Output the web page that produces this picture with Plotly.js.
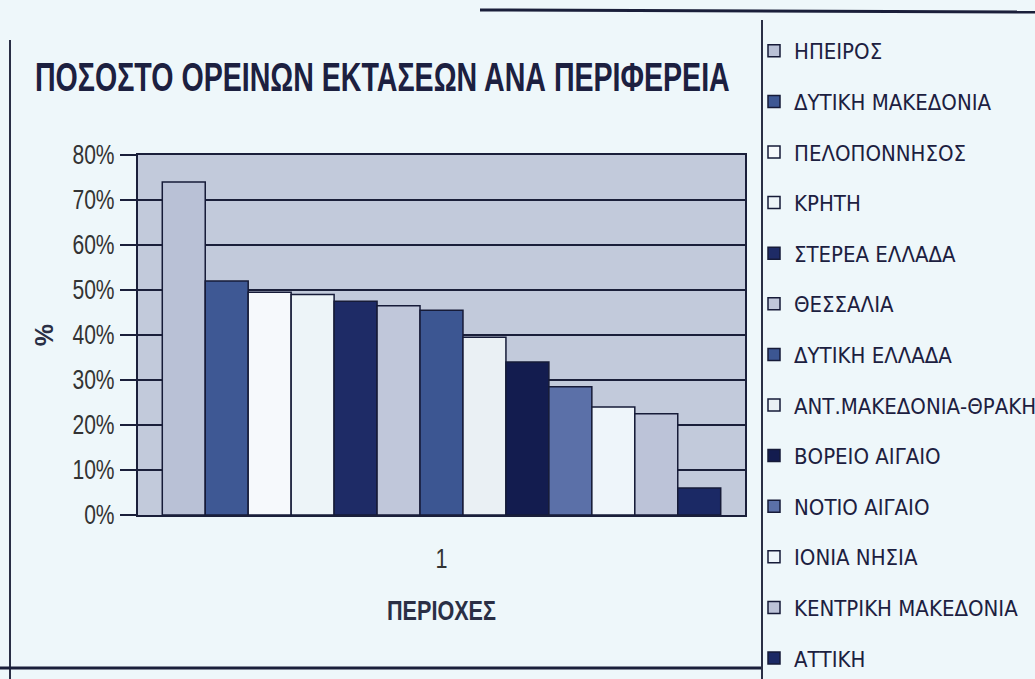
<!DOCTYPE html>
<html>
<head>
<meta charset="utf-8">
<script src="https://cdn.plot.ly/plotly-3.0.1.min.js"></script>
<style>
  html, body { margin: 0; padding: 0; background: #eef7fa; }
  #chart { width: 1035px; height: 679px; }
</style>
</head>
<body>
<div id="chart"></div>
<script>
// Data (percent of mountainous area per region)
const regions = [
  "ΗΠΕΙΡΟΣ",
  "ΔΥΤΙΚΗ ΜΑΚΕΔΟΝΙΑ",
  "ΠΕΛΟΠΟΝΝΗΣΟΣ",
  "ΚΡΗΤΗ",
  "ΣΤΕΡΕΑ ΕΛΛΑΔΑ",
  "ΘΕΣΣΑΛΙΑ",
  "ΔΥΤΙΚΗ ΕΛΛΑΔΑ",
  "ΑΝΤ.ΜΑΚΕΔΟΝΙΑ-ΘΡΑΚΗ",
  "ΒΟΡΕΙΟ ΑΙΓΑΙΟ",
  "ΝΟΤΙΟ ΑΙΓΑΙΟ",
  "ΙΟΝΙΑ ΝΗΣΙΑ",
  "ΚΕΝΤΡΙΚΗ ΜΑΚΕΔΟΝΙΑ",
  "ΑΤΤΙΚΗ"
];
const percents = [74, 52, 49.5, 49, 47.5, 46.5, 45.5, 39.5, 34, 28.5, 24, 22.5, 6];
const category = ["1"];
const yTicks = [0, 10, 20, 30, 40, 50, 60, 70, 80];
const yTickLabels = ["0%", "10%", "20%", "30%", "40%", "50%", "60%", "70%", "80%"];

const barColors = [
  "#b9c1d6", "#3e5894", "#f6f9fc", "#edf4f8", "#1e2b66", "#c0c7da",
  "#3c5692", "#eaf0f4", "#131c4f", "#5b70a8", "#eef5fa", "#bcc3d8", "#1b2965"
];

const FONT = "'Liberation Sans', Arial, sans-serif";
const COND = "'DejaVu Sans Condensed', 'Liberation Sans Narrow', 'Liberation Sans', sans-serif";

const traces = regions.map((name, i) => ({
  type: "bar",
  name: name,
  x: category,
  y: [percents[i]],
  legendgroup: "g" + i,
  marker: { color: barColors[i], line: { color: "#161b38", width: 1.5 } },
  hoverinfo: "name+y"
}));

// pixel helpers for decorative frame lines (paper coords relative to plot area)
const L = 138, R = 745, T = 155, B = 515;
const px = v => (v - L) / (R - L);
const py = v => (B - v) / (B - T);

const layout = {
  width: 1035,
  height: 679,
  margin: { l: L, r: 1035 - R, t: T, b: 679 - B, autoexpand: false },
  paper_bgcolor: "#eef7fa",
  plot_bgcolor: "#c2cadb",
  barmode: "group",
  bargap: 0.08,
  bargroupgap: 0,
  showlegend: true,
  font: { family: FONT, color: "#2a2f45" },
  title: {
    text: "ΠΟΣΟΣΤΟ ΟΡΕΙΝΩΝ ΕΚΤΑΣΕΩΝ ΑΝΑ ΠΕΡΙΦΕΡΕΙΑ",
    font: { family: FONT, size: 40, weight: "bold", color: "#1c2040" },
    x: 35 / 1035, xanchor: "left", xref: "container",
    y: 1 - 77 / 679, yanchor: "middle", yref: "container"
  },
  xaxis: {
    type: "category",
    showgrid: false,
    showline: true, linecolor: "#1a1f3a", linewidth: 2,
    ticks: "", ticklabelstandoff: 19,
    tickfont: { family: FONT, size: 27, color: "#333" },
    title: { text: "ΠΕΡΙΟΧΕΣ", font: { family: FONT, size: 27, weight: "bold", color: "#2a2f45" }, standoff: 28 },
    mirror: true
  },
  yaxis: {
    range: [0, 80],
    tickvals: yTicks,
    ticktext: yTickLabels,
    showgrid: true, gridcolor: "#1a1f3a", gridwidth: 2,
    showline: true, linecolor: "#1a1f3a", linewidth: 2, mirror: true,
    ticks: "outside", ticklen: 16, tickwidth: 2, tickcolor: "#1a1f3a",
    tickfont: { family: FONT, size: 27, color: "#333" },
    zeroline: false,
    title: { text: "%", font: { family: FONT, size: 25, weight: "bold", color: "#2a2f45" }, standoff: 0 }
  },
  legend: {
    x: px(754), xanchor: "left",
    y: py(30), yanchor: "top",
    bgcolor: "rgba(0,0,0,0)",
    font: { family: COND, size: 22, color: "#1c2040" },
    tracegroupgap: 19,
    itemwidth: 30,
    traceorder: "grouped",
    maxheight: 679
  },
  shapes: [
    { type: "line", xref: "paper", yref: "paper", x0: px(10), x1: px(10), y0: py(40), y1: py(679), line: { color: "#2a2f45", width: 2 } },
    { type: "line", xref: "paper", yref: "paper", x0: px(0), x1: px(762), y0: py(668), y1: py(668), line: { color: "#1a1f3a", width: 3 } },
    { type: "line", xref: "paper", yref: "paper", x0: px(762), x1: px(762), y0: py(20), y1: py(679), line: { color: "#2a2f45", width: 2 } },
    { type: "line", xref: "paper", yref: "paper", x0: px(480), x1: px(1035), y0: py(10), y1: py(12), line: { color: "#1a1f3a", width: 3 } }
  ]
};

// Narrow-font look: scale text horizontally around its anchor x (no Arial Narrow offline)
function narrow(root, selector, factor, targetWidth) {
  root.querySelectorAll(selector).forEach(el => {
    const len = el.getComputedTextLength();
    if (!len) return;
    const sx = targetWidth ? targetWidth / len : factor;
    const x0 = parseFloat(el.getAttribute("x")) || 0;
    const prev = el.getAttribute("transform") || "";
    el.setAttribute("transform", (prev + " translate(" + (x0 * (1 - sx)).toFixed(2) + ",0) scale(" + sx.toFixed(4) + ",1)").trim());
  });
}

Plotly.newPlot("chart", traces, layout, { displayModeBar: false, staticPlot: true }).then(gd => {
  narrow(gd, ".gtitle", 0, 695);
  narrow(gd, ".ytick text", 0.78);
  narrow(gd, ".xtick text", 0.8);
  narrow(gd, ".xtitle", 0.8);
});
</script>
</body>
</html>
